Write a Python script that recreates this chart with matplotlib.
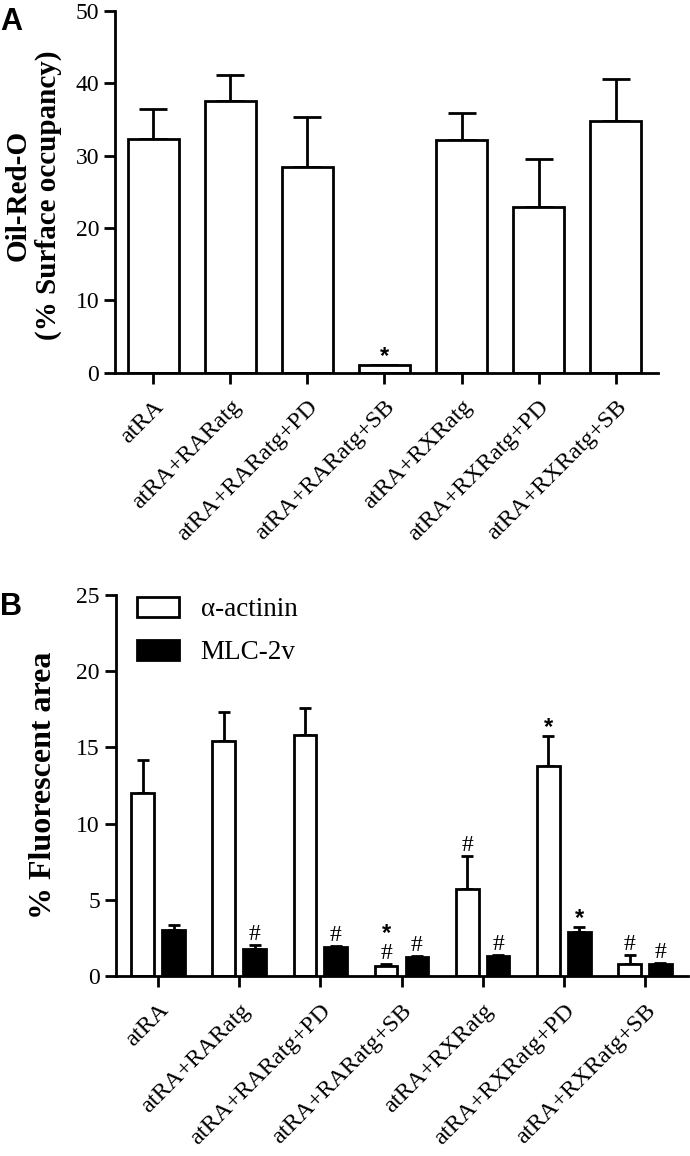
import numpy as np
import matplotlib
matplotlib.use("Agg")
import matplotlib.pyplot as plt
from matplotlib.patches import Patch

groups = ["atRA", "atRA+RARatg", "atRA+RARatg+PD", "atRA+RARatg+SB",
          "atRA+RXRatg", "atRA+RXRatg+PD", "atRA+RXRatg+SB"]

# panel A: Oil-Red-O
oil_mean = [32.3, 37.6, 28.5, 1.0, 32.2, 22.9, 34.8]
oil_sem = [4.2, 3.5, 6.8, 0.0, 3.7, 6.7, 5.8]
oil_marks = [[], [], [], ["*"], [], [], []]

# panel B: fluorescent area
actinin_mean = [12.0, 15.4, 15.8, 0.7, 5.7, 13.8, 0.8]
actinin_sem = [2.2, 1.9, 1.8, 0.1, 2.2, 1.95, 0.6]
mlc_mean = [3.05, 1.8, 1.95, 1.27, 1.3, 2.9, 0.8]
mlc_sem = [0.3, 0.22, 0.05, 0.08, 0.08, 0.32, 0.06]
actinin_marks = [[], [], [], ["#", "*"], ["#"], ["*"], ["#"]]
mlc_marks = [[], ["#"], ["#"], ["#"], ["#"], ["*"], ["#"]]

plt.rcParams["font.family"] = "Liberation Serif"
TICK_FS = 17
CAT_FS = 17.5
LW = 2.0


def style_axes(ax):
    for side in ("top", "right"):
        ax.spines[side].set_visible(False)
    for side in ("left", "bottom"):
        ax.spines[side].set_linewidth(LW)
    ax.tick_params(direction="out", length=8, width=LW, labelsize=TICK_FS)
    ax.tick_params(axis="x", pad=9)
    ax.set_xticks(np.arange(len(groups)))
    ax.set_xticklabels(groups, rotation=45, ha="right", rotation_mode="anchor",
                       fontsize=CAT_FS)


def add_marks(ax, xs, tops, marks):
    for x, top, mk in zip(xs, tops, marks):
        off = 0
        for m in mk:
            if m == "*":
                ax.annotate(m, (x, top), xytext=(0, off - 2), textcoords="offset points",
                            ha="center", va="bottom", fontsize=17, fontweight="bold",
                            family="Liberation Sans")
            else:
                ax.annotate(m, (x, top), xytext=(0, off), textcoords="offset points",
                            ha="center", va="bottom", fontsize=17)
            off += 16


fig = plt.figure(figsize=(6.9, 11.56), dpi=100)

# ---- panel A
axA = fig.add_axes([0.1667, 0.6776, 0.787, 0.3129])
x = np.arange(len(groups))
axA.bar(x, oil_mean, width=0.66, color="white", edgecolor="black", linewidth=LW, zorder=2)
axA.errorbar(x, oil_mean, yerr=[np.zeros(len(x)), oil_sem], fmt="none", ecolor="black",
             elinewidth=LW, capsize=10, capthick=LW, zorder=1)
axA.set_ylim(0, 50)
axA.set_yticks(np.arange(0, 51, 10))
axA.set_xlim(-0.497, 6.55)
style_axes(axA)
axA.set_ylabel("Oil-Red-O\n(% Surface occupancy)", fontsize=21, fontweight="bold",
               linespacing=1.15)
axA.yaxis.set_label_coords(-0.098, 0.49)
add_marks(axA, x, np.array(oil_mean) + np.array(oil_sem), oil_marks)

# ---- panel B
axB = fig.add_axes([0.168, 0.1555, 0.829, 0.3298])
w = 0.28
off = 0.19
axB.bar(x - off, actinin_mean, width=w, color="white", edgecolor="black", linewidth=LW,
        zorder=2)
axB.bar(x + off, mlc_mean, width=w, color="black", edgecolor="black", linewidth=LW,
        zorder=2)
axB.errorbar(x - off, actinin_mean, yerr=[np.zeros(len(x)), actinin_sem], fmt="none",
             ecolor="black", elinewidth=LW, capsize=4.5, capthick=LW, zorder=1)
axB.errorbar(x + off, mlc_mean, yerr=[np.zeros(len(x)), mlc_sem], fmt="none",
             ecolor="black", elinewidth=LW, capsize=4.5, capthick=LW, zorder=1)
axB.set_ylim(0, 25)
axB.set_yticks(np.arange(0, 26, 5))
axB.set_xlim(-0.52, 6.53)
style_axes(axB)
axB.set_ylabel("% Fluorescent area", fontsize=23, fontweight="bold")
axB.yaxis.set_label_coords(-0.101, 0.5)
add_marks(axB, x - off, np.array(actinin_mean) + np.array(actinin_sem), actinin_marks)
add_marks(axB, x + off, np.array(mlc_mean) + np.array(mlc_sem), mlc_marks)

handles = [Patch(facecolor="white", edgecolor="black", linewidth=LW),
           Patch(facecolor="black", edgecolor="black", linewidth=LW)]
axB.legend(handles, ["\u03b1-actinin", "MLC-2v"], loc="upper left",
           bbox_to_anchor=(0.036, 0.995), frameon=False, fontsize=19.5,
           handlelength=1.57, handleheight=0.75, handletextpad=0.8, labelspacing=0.65,
           borderaxespad=0, borderpad=0)

fig.text(0.0, 0.994, "A", fontsize=22, fontweight="bold", family="Liberation Sans",
         ha="left", va="top")
fig.text(0.0, 0.488, "B", fontsize=22, fontweight="bold", family="Liberation Sans",
         ha="left", va="top")

fig.savefig("out.png", dpi=100)
